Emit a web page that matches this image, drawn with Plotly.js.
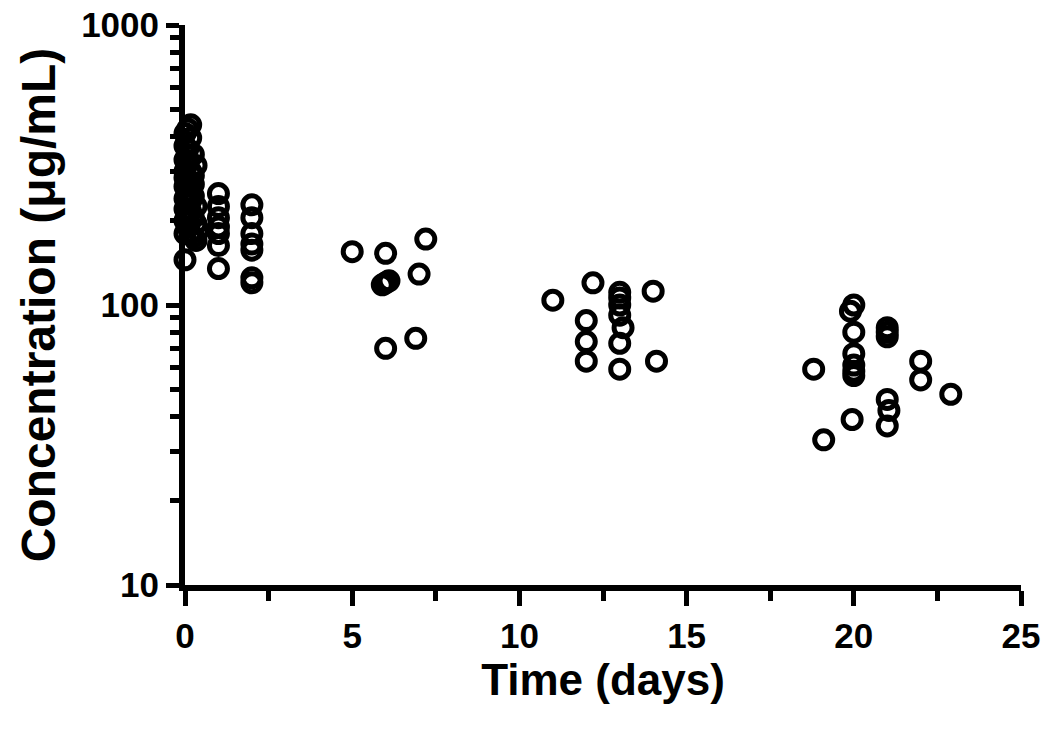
<!DOCTYPE html>
<html>
<head>
<meta charset="utf-8">
<script src="https://cdn.plot.ly/plotly-3.0.1.min.js"></script>
<style>
html,body{margin:0;padding:0;background:#fff;}
#chart{width:1050px;height:732px;}
</style>
</head>
<body>
<div id="chart"></div>
<script>
// Time (days) and concentration (µg/mL)
const timeDays = [
  0, 0, 0, 0, 0, 0, 0, 0, 0, 0, 0,
  0.08, 0.08, 0.08, 0.08, 0.08, 0.08, 0.08, 0.08,
  0.17, 0.17, 0.17, 0.17, 0.17, 0.17, 0.17,
  0.25, 0.25, 0.25, 0.25, 0.25, 0.25,
  0.33, 0.33, 0.33, 0.33, 0.4,
  1, 1, 1, 1, 1, 1, 1,
  2, 2, 2, 2, 2, 2, 2,
  5,
  6, 6, 5.9, 6.1, 6, 6.9, 7.0, 7.2,
  11, 12, 12, 12, 12.2, 13, 13, 13, 13, 13.1, 13, 13, 14, 14.1,
  18.8, 19.1, 19.9, 20, 20, 20, 20, 20, 20, 19.95,
  21, 21, 21, 21, 21.05, 21, 22, 22, 22.9
];
const concentration = [
  145, 200, 220, 240, 265, 285, 330, 370, 410, 300, 180,
  190, 230, 255, 275, 320, 360, 425, 210,
  180, 215, 255, 300, 395, 440, 235,
  175, 205, 245, 270, 290, 345,
  170, 195, 225, 315, 185,
  250, 225, 205, 190, 180, 163, 135,
  228, 205, 180, 165, 157, 125, 120,
  155,
  153, 120, 118, 122, 70, 76, 129, 172,
  104, 88, 74, 63, 120, 111, 106, 100, 92, 83, 73, 59, 112, 63,
  59, 33, 95, 100, 80, 67, 61, 58, 56, 39,
  83, 80, 77, 46, 42, 37, 63, 54, 48
];

const fam = 'Liberation Sans, Arial, sans-serif';
const tickFont = {family: fam, size: 35, color: '#000', weight: 700};

const trace = {
  type: 'scatter',
  mode: 'markers',
  x: timeDays,
  y: concentration,
  cliponaxis: false,
  marker: {
    symbol: 'circle-open',
    size: 18,
    color: '#000',
    line: {color: '#000', width: 5}
  },
  showlegend: false,
  hoverinfo: 'x+y'
};

const layout = {
  width: 1050,
  height: 732,
  paper_bgcolor: '#fff',
  plot_bgcolor: '#fff',
  margin: {l: 185, r: 29, t: 25, b: 147},
  showlegend: false,
  xaxis: {
    range: [0, 25],
    tickmode: 'linear',
    tick0: 0,
    dtick: 5,
    ticks: 'outside',
    ticklen: 15,
    tickwidth: 5,
    tickcolor: '#000',
    showline: true,
    linewidth: 6,
    linecolor: '#000',
    showgrid: false,
    zeroline: false,
    tickfont: tickFont,
    minor: {dtick: 2.5, ticks: 'outside', ticklen: 10, tickwidth: 5, tickcolor: '#000', showgrid: false},
    title: {text: 'Time (days)', font: {family: fam, size: 44, color: '#000', weight: 700}, standoff: 12}
  },
  yaxis: {
    type: 'log',
    range: [1, 3],
    tickvals: [10, 100, 1000],
    ticktext: ['10', '100', '1000'],
    ticks: 'outside',
    ticklen: 13,
    tickwidth: 5,
    tickcolor: '#000',
    showline: true,
    linewidth: 6,
    linecolor: '#000',
    showgrid: false,
    zeroline: false,
    tickfont: tickFont,
    minor: {tickvals: [20,30,40,50,60,70,80,90,200,300,400,500,600,700,800,900], ticks: 'outside', ticklen: 9, tickwidth: 5, tickcolor: '#000', showgrid: false},
    title: {text: 'Concentration (μg/mL)', font: {family: fam, size: 48, color: '#000', weight: 700}, standoff: 12}
  }
};

Plotly.newPlot('chart', [trace], layout, {displayModeBar: false, staticPlot: true});
</script>
</body>
</html>
